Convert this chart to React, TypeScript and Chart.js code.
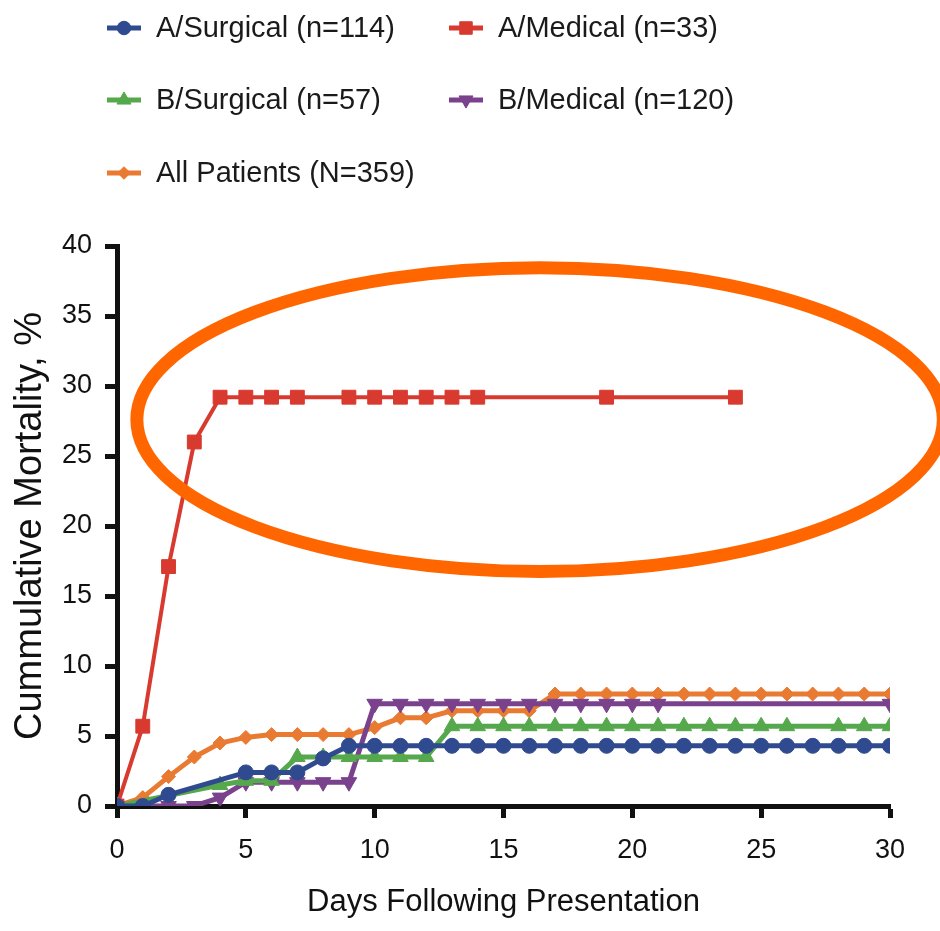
import React, { useEffect, useRef } from 'react';
import { Chart, registerables } from 'chart.js';
import { drawPoint } from 'chart.js/helpers';

Chart.register(...registerables);

// ---- Data ----
const seriesLabels = [
  'A/Surgical (n=114)',
  'A/Medical (n=33)',
  'B/Surgical (n=57)',
  'B/Medical (n=120)',
  'All Patients (N=359)',
];

const aSurgicalDays = [0, 1, 2, 5, 6, 7, 8, 9, 10, 11, 12, 13, 14, 15, 16, 17, 18, 19, 20, 21, 22, 23, 24, 25, 26, 27, 28, 29, 30];
const aSurgicalValues = [0, 0, 0.8, 2.4, 2.4, 2.4, 3.4, 4.3, 4.3, 4.3, 4.3, 4.3, 4.3, 4.3, 4.3, 4.3, 4.3, 4.3, 4.3, 4.3, 4.3, 4.3, 4.3, 4.3, 4.3, 4.3, 4.3, 4.3, 4.3];

const aMedicalDays = [0, 1, 2, 3, 4, 5, 6, 7, 9, 10, 11, 12, 13, 14, 19, 24];
const aMedicalValues = [0, 5.7, 17.1, 26.0, 29.2, 29.2, 29.2, 29.2, 29.2, 29.2, 29.2, 29.2, 29.2, 29.2, 29.2, 29.2];

const bSurgicalDays = [0, 4, 5, 6, 7, 8, 9, 10, 11, 12, 13, 14, 15, 16, 17, 18, 19, 20, 21, 22, 23, 24, 25, 26, 28, 29, 30];
const bSurgicalValues = [0, 1.5, 1.8, 1.8, 3.5, 3.5, 3.5, 3.5, 3.5, 3.5, 5.7, 5.7, 5.7, 5.7, 5.7, 5.7, 5.7, 5.7, 5.7, 5.7, 5.7, 5.7, 5.7, 5.7, 5.7, 5.7, 5.7];

const bMedicalDays = [0, 1, 2, 3, 4, 5, 6, 7, 8, 9, 10, 11, 12, 13, 14, 15, 16, 17, 18, 19, 20, 21, 30];
const bMedicalValues = [0, 0, 0, 0, 0.6, 1.7, 1.7, 1.7, 1.7, 1.7, 7.3, 7.3, 7.3, 7.3, 7.3, 7.3, 7.3, 7.3, 7.3, 7.3, 7.3, 7.3, 7.3];

const allDays = [0, 1, 2, 3, 4, 5, 6, 7, 8, 9, 10, 11, 12, 13, 14, 15, 16, 17, 18, 19, 20, 21, 22, 23, 24, 25, 26, 27, 28, 29, 30];
const allValues = [0, 0.6, 2.1, 3.5, 4.5, 4.9, 5.1, 5.1, 5.1, 5.1, 5.6, 6.3, 6.3, 6.8, 6.8, 6.8, 6.8, 8.0, 8.0, 8.0, 8.0, 8.0, 8.0, 8.0, 8.0, 8.0, 8.0, 8.0, 8.0, 8.0, 8.0];

const xTicks = [0, 5, 10, 15, 20, 25, 30];
const yTicks = [0, 5, 10, 15, 20, 25, 30, 35, 40];

// Highlight ellipse in data units (center day, center %, radius days, radius %)
const highlightEllipse = { cx: 16.42, cy: 27.6, rx: 15.65, ry: 10.85 };

const FONT = "'Liberation Sans', Arial, Helvetica, sans-serif";

const toPoints = (days: number[], vals: number[]) => days.map((d, i) => ({ x: d, y: vals[i] }));

const styles = [
  { color: '#2F4A8E', pointStyle: 'circle', radius: 7.5, rotation: 0, lineWidth: 5 },
  { color: '#D83A30', pointStyle: 'rect', radius: 9.8, rotation: 0, lineWidth: 4 },
  { color: '#55A84C', pointStyle: 'triangle', radius: 9, rotation: 0, lineWidth: 5 },
  { color: '#7A418C', pointStyle: 'triangle', radius: 9, rotation: 180, lineWidth: 5 },
  { color: '#E97A32', pointStyle: 'rectRot', radius: 7, rotation: 0, lineWidth: 5 },
];

const legendPlugin = {
  id: 'customLegend',
  afterDraw(chart: any) {
    const ctx = chart.ctx;
    const positions = [
      { lx: 107, tx: 156, y: 28 },
      { lx: 449, tx: 498, y: 28 },
      { lx: 107, tx: 156, y: 100 },
      { lx: 449, tx: 498, y: 100 },
      { lx: 107, tx: 156, y: 173 },
    ];
    chart.data.datasets.forEach((ds: any, i: number) => {
      const p = positions[i];
      ctx.save();
      ctx.strokeStyle = ds.borderColor;
      ctx.fillStyle = ds.pointBackgroundColor;
      ctx.lineWidth = 5;
      ctx.beginPath();
      ctx.moveTo(p.lx, p.y);
      ctx.lineTo(p.lx + 34, p.y);
      ctx.stroke();
      ctx.lineWidth = 1;
      drawPoint(ctx, { pointStyle: ds.pointStyle, radius: ds.pointRadius * 0.9, rotation: ds.pointRotation, borderWidth: 1 }, p.lx + 17, p.y);
      ctx.fillStyle = '#1a1a1a';
      ctx.font = `29px ${FONT}`;
      ctx.textBaseline = 'middle';
      ctx.textAlign = 'left';
      ctx.fillText(ds.label, p.tx, p.y + 1);
      ctx.restore();
    });
  },
};

const ellipsePlugin = {
  id: 'highlightEllipse',
  afterDraw(chart: any) {
    const { ctx, scales } = chart;
    const xs = scales.x;
    const ys = scales.y;
    const cx = xs.getPixelForValue(highlightEllipse.cx);
    const cy = ys.getPixelForValue(highlightEllipse.cy);
    const rx = Math.abs(xs.getPixelForValue(highlightEllipse.cx + highlightEllipse.rx) - cx);
    const ry = Math.abs(ys.getPixelForValue(highlightEllipse.cy + highlightEllipse.ry) - cy);
    ctx.save();
    ctx.strokeStyle = '#FF6600';
    ctx.lineWidth = 13;
    ctx.beginPath();
    ctx.ellipse(cx, cy, rx, ry, 0, 0, Math.PI * 2);
    ctx.stroke();
    ctx.restore();
  },
};

export default function App() {
  const canvasRef = useRef<HTMLCanvasElement | null>(null);

  useEffect(() => {
    if (!canvasRef.current) return;
    const seriesData = [
      toPoints(aSurgicalDays, aSurgicalValues),
      toPoints(aMedicalDays, aMedicalValues),
      toPoints(bSurgicalDays, bSurgicalValues),
      toPoints(bMedicalDays, bMedicalValues),
      toPoints(allDays, allValues),
    ];
    const datasets = seriesData.map((data, i) => ({
      label: seriesLabels[i],
      data,
      borderColor: styles[i].color,
      backgroundColor: styles[i].color,
      pointBackgroundColor: styles[i].color,
      pointBorderColor: styles[i].color,
      pointBorderWidth: 1,
      pointStyle: styles[i].pointStyle,
      pointRadius: styles[i].radius,
      pointRotation: styles[i].rotation,
      borderWidth: styles[i].lineWidth,
      tension: 0,
      fill: false,
    }));

    const chart = new Chart(canvasRef.current, {
      type: 'line',
      data: { datasets },
      options: {
        animation: false,
        responsive: false,
        devicePixelRatio: 1,
        layout: { padding: { top: 246, right: 50, left: 0, bottom: 0 } },
        plugins: {
          legend: { display: false },
          tooltip: { enabled: false },
        },
        scales: {
          x: {
            type: 'linear',
            min: 0,
            max: 30,
            afterFit: (s: any) => { s.height = 125; },
            afterBuildTicks: (s: any) => { s.ticks = xTicks.map((v) => ({ value: v })); },
            ticks: { color: '#111', font: { size: 27, family: FONT }, padding: 16 },
            grid: { drawOnChartArea: false, drawTicks: true, tickLength: 12, tickWidth: 5, tickColor: '#111' },
            border: { color: '#111', width: 5 },
            title: { display: true, text: 'Days Following Presentation', color: '#111', font: { size: 31, family: FONT }, padding: { top: 0, bottom: 10 } },
          },
          y: {
            type: 'linear',
            min: 0,
            max: 40,
            afterFit: (s: any) => { s.width = 117; },
            afterBuildTicks: (s: any) => { s.ticks = yTicks.map((v) => ({ value: v })); },
            ticks: { color: '#111', font: { size: 27, family: FONT }, padding: 13 },
            grid: { drawOnChartArea: false, drawTicks: true, tickLength: 12, tickWidth: 5, tickColor: '#111' },
            border: { color: '#111', width: 5 },
            title: { display: true, text: 'Cummulative Mortality, %', color: '#111', font: { size: 38, family: FONT }, padding: { top: 8, bottom: 0 } },
          },
        },
      },
      plugins: [legendPlugin, ellipsePlugin],
    } as any);
    return () => chart.destroy();
  }, []);

  return (
    <div style={{ position: 'absolute', left: 0, top: 0, width: 940, height: 931, background: '#fff' }}>
      <canvas ref={canvasRef} width={940} height={931} style={{ display: 'block' }} />
    </div>
  );
}
